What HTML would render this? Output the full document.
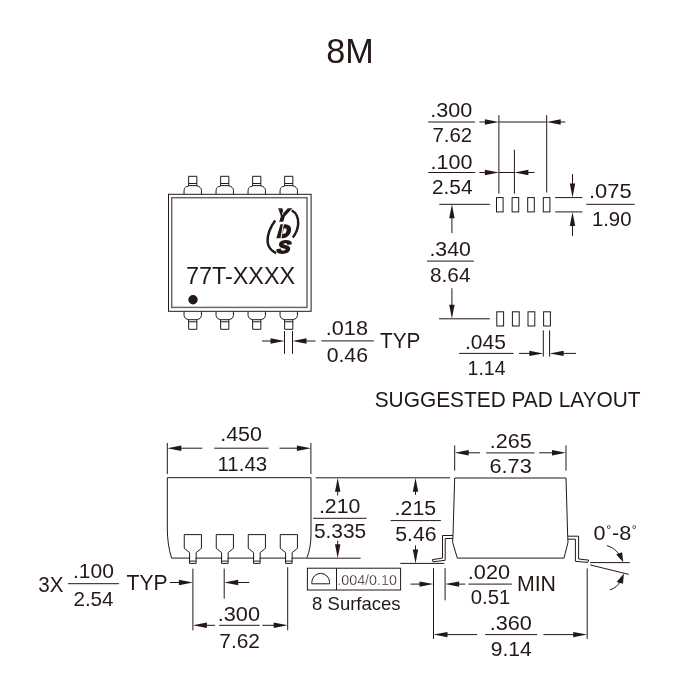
<!DOCTYPE html>
<html lang="en">
<head>
<meta charset="utf-8">
<title>8M package outline</title>
<style>
html,body{margin:0;padding:0;background:#fff;}
body{width:700px;height:700px;overflow:hidden;}
svg{display:block;will-change:transform;font-family:"Liberation Sans",Arial,sans-serif;fill:#231815;}
svg line,svg .s{stroke:#231815;stroke-width:1.0;fill:none;}
svg .f{fill:#231815;stroke:none;}
svg text{stroke:none;fill:#231815;}
</style>
</head>
<body>
<svg width="700" height="700" viewBox="0 0 700 700">
<text transform="translate(326.2,63.3) scale(0.964,1)" x="0" y="0" font-size="35.5">8M</text>
<rect x="168.5" y="194.3" width="142.6" height="117" class="s"/>
<rect x="171.7" y="197.7" width="135.3" height="109.7" class="s" style="stroke-width:1.5;stroke:#6e6663"/>
<path class="s" d="M184.05,194.3 V190.4 A4.6,4.3 0 0 1 188.65,186.1 V176.3 H196.85 V186.1 A4.6,4.3 0 0 1 201.45,190.4 V194.3 M188.65,183.5 H196.85 M188.65,185.6 H196.85"/>
<path class="s" d="M184.05,311.3 V315.2 A4.6,4.3 0 0 0 188.65,319.5 V329.3 H196.85 V319.5 A4.6,4.3 0 0 0 201.45,315.2 V311.3 M188.65,319.7 H196.85 M188.65,321.8 H196.85"/>
<path class="s" d="M216.05,194.3 V190.4 A4.6,4.3 0 0 1 220.65,186.1 V176.3 H228.85 V186.1 A4.6,4.3 0 0 1 233.45,190.4 V194.3 M220.65,183.5 H228.85 M220.65,185.6 H228.85"/>
<path class="s" d="M216.05,311.3 V315.2 A4.6,4.3 0 0 0 220.65,319.5 V329.3 H228.85 V319.5 A4.6,4.3 0 0 0 233.45,315.2 V311.3 M220.65,319.7 H228.85 M220.65,321.8 H228.85"/>
<path class="s" d="M248.05,194.3 V190.4 A4.6,4.3 0 0 1 252.65,186.1 V176.3 H260.85 V186.1 A4.6,4.3 0 0 1 265.45,190.4 V194.3 M252.65,183.5 H260.85 M252.65,185.6 H260.85"/>
<path class="s" d="M248.05,311.3 V315.2 A4.6,4.3 0 0 0 252.65,319.5 V329.3 H260.85 V319.5 A4.6,4.3 0 0 0 265.45,315.2 V311.3 M252.65,319.7 H260.85 M252.65,321.8 H260.85"/>
<path class="s" d="M280.05,194.3 V190.4 A4.6,4.3 0 0 1 284.65,186.1 V176.3 H292.85 V186.1 A4.6,4.3 0 0 1 297.45,190.4 V194.3 M284.65,183.5 H292.85 M284.65,185.6 H292.85"/>
<path class="s" d="M280.05,311.3 V315.2 A4.6,4.3 0 0 0 284.65,319.5 V329.3 H292.85 V319.5 A4.6,4.3 0 0 0 297.45,315.2 V311.3 M284.65,319.7 H292.85 M284.65,321.8 H292.85"/>
<circle cx="193" cy="299.7" r="4.7" class="f"/>
<text transform="translate(185.9,284.4) scale(1.017,1)" x="0" y="0" font-size="23">77T-XXXX</text>
<g>
<path class="s" style="stroke-width:2.5" d="M275.2,220.4 C270,227 267,236 267.6,242 C268.2,247.5 271.5,251 276.2,253.2"/>
<path class="s" style="stroke-width:2.5" d="M291.8,210.5 C296.5,213 298.5,218.5 298.2,224 C297.8,229.5 295.5,234 292.8,237.6"/>
<text x="0" y="0" transform="translate(276.6,220.9) skewX(-6)" font-size="17.6" font-family="'Liberation Sans',sans-serif" font-weight="bold" font-style="italic" style="stroke:#231815;stroke-width:1.5;stroke-linejoin:miter">Y</text>
<text x="0" y="0" transform="translate(277.4,237.0) skewX(-6)" font-size="17" font-family="'Liberation Sans',sans-serif" font-weight="bold" font-style="italic" style="stroke:#231815;stroke-width:2.3;stroke-linejoin:miter">D</text>
<text x="0" y="0" transform="translate(276.4,253.1) skewX(-8) scale(1.14,1)" font-size="17.6" font-family="'Liberation Sans',sans-serif" font-weight="bold" font-style="italic" style="stroke:#231815;stroke-width:1.5;stroke-linejoin:miter">S</text>
<path style="stroke:#fff;stroke-width:1.0;fill:none" d="M284.3,206.5 L282.6,214.6"/>
<path style="stroke:#fff;stroke-width:1.0;fill:none" d="M283.6,223.0 L280.9,238.8"/>
</g>
<line x1="284.5" y1="331" x2="284.5" y2="353.8"/>
<line x1="292.5" y1="331" x2="292.5" y2="353.8"/>
<polygon class="f" points="284.50,341.00 270.50,338.30 270.50,343.70"/>
<line x1="262" y1="341" x2="271.5" y2="341"/>
<polygon class="f" points="292.50,341.00 306.50,338.30 306.50,343.70"/>
<line x1="305.5" y1="341" x2="315.5" y2="341"/>
<line x1="321.3" y1="340.9" x2="373.9" y2="340.9"/>
<text transform="translate(325.8,334.7) scale(1.032,1)" x="0" y="0" font-size="21.0">.018</text>
<text transform="translate(326.7,362.2) scale(1.009,1)" x="0" y="0" font-size="21.0">0.46</text>
<text transform="translate(380.0,347.5) scale(0.958,1)" x="0" y="0" font-size="21.7">TYP</text>
<line x1="428.2" y1="122" x2="475" y2="122"/>
<text transform="translate(430.2,116.5) scale(1.032,1)" x="0" y="0" font-size="21.0">.300</text>
<text transform="translate(432.4,142.2) scale(0.973,1)" x="0" y="0" font-size="21.0">7.62</text>
<polygon class="f" points="498.90,122.00 484.90,119.30 484.90,124.70"/>
<line x1="479.4" y1="122" x2="485.9" y2="122"/>
<line x1="498.9" y1="122" x2="546.7" y2="122"/>
<polygon class="f" points="546.70,122.00 560.70,119.30 560.70,124.70"/>
<line x1="559.7" y1="122" x2="565.3" y2="122"/>
<line x1="498.9" y1="115.1" x2="498.9" y2="193.7"/>
<line x1="546.7" y1="115.1" x2="546.7" y2="192.5"/>
<line x1="428.2" y1="172.5" x2="475.2" y2="172.5"/>
<text transform="translate(430.6,168.5) scale(1.024,1)" x="0" y="0" font-size="21.0">.100</text>
<text transform="translate(431.9,194.4) scale(0.994,1)" x="0" y="0" font-size="21.0">2.54</text>
<polygon class="f" points="498.90,172.50 484.90,169.80 484.90,175.20"/>
<line x1="479.4" y1="172.5" x2="485.9" y2="172.5"/>
<line x1="498.9" y1="172.5" x2="514.4" y2="172.5"/>
<polygon class="f" points="514.40,172.50 528.40,169.80 528.40,175.20"/>
<line x1="527.4" y1="172.5" x2="534.5" y2="172.5"/>
<line x1="514.4" y1="149.7" x2="514.4" y2="193.7"/>
<rect class="s" x="496.50" y="197.6" width="6.6" height="14.3"/>
<rect class="s" x="496.80" y="311.8" width="6.8" height="14.2"/>
<rect class="s" x="512.10" y="197.6" width="6.6" height="14.3"/>
<rect class="s" x="512.40" y="311.8" width="6.8" height="14.2"/>
<rect class="s" x="527.70" y="197.6" width="6.6" height="14.3"/>
<rect class="s" x="528.00" y="311.8" width="6.8" height="14.2"/>
<rect class="s" x="543.30" y="197.6" width="6.6" height="14.3"/>
<rect class="s" x="543.60" y="311.8" width="6.8" height="14.2"/>
<line x1="439.2" y1="204.3" x2="489.9" y2="204.3"/>
<polygon class="f" points="451.90,204.30 449.20,218.30 454.60,218.30"/>
<line x1="451.9" y1="217.3" x2="451.9" y2="233.2"/>
<line x1="555.2" y1="197.6" x2="582.4" y2="197.6"/>
<line x1="555.2" y1="211.9" x2="582.4" y2="211.9"/>
<polygon class="f" points="572.50,197.60 569.80,183.60 575.20,183.60"/>
<line x1="572.5" y1="174.1" x2="572.5" y2="184.6"/>
<polygon class="f" points="572.50,211.90 569.80,225.90 575.20,225.90"/>
<line x1="572.5" y1="224.9" x2="572.5" y2="235.9"/>
<line x1="586.4" y1="204.3" x2="634.8" y2="204.3"/>
<text transform="translate(589.0,198.2) scale(1.042,1)" x="0" y="0" font-size="21.0">.075</text>
<text transform="translate(591.9,226.1) scale(0.969,1)" x="0" y="0" font-size="21.0">1.90</text>
<line x1="427" y1="261.1" x2="473.9" y2="261.1"/>
<text transform="translate(429.4,255.7) scale(1.013,1)" x="0" y="0" font-size="21.0">.340</text>
<text transform="translate(430.0,281.9) scale(0.991,1)" x="0" y="0" font-size="21.0">8.64</text>
<polygon class="f" points="451.90,318.80 449.20,304.80 454.60,304.80"/>
<line x1="451.9" y1="288.2" x2="451.9" y2="305.8"/>
<line x1="439" y1="318.8" x2="489.9" y2="318.8"/>
<line x1="459" y1="353.4" x2="513.6" y2="353.4"/>
<text transform="translate(465.0,349.1) scale(1.000,1)" x="0" y="0" font-size="21.0">.045</text>
<text transform="translate(467.6,375.3) scale(0.929,1)" x="0" y="0" font-size="21.0">1.14</text>
<line x1="543.3" y1="330.4" x2="543.3" y2="356.6"/>
<line x1="549.6" y1="330.4" x2="549.6" y2="356.6"/>
<polygon class="f" points="543.30,353.40 529.30,350.70 529.30,356.10"/>
<line x1="519" y1="353.4" x2="530.3" y2="353.4"/>
<polygon class="f" points="549.60,353.40 563.60,350.70 563.60,356.10"/>
<line x1="562.6" y1="353.4" x2="576" y2="353.4"/>
<text transform="translate(374.7,407.4) scale(0.962,1)" x="0" y="0" font-size="21.7">SUGGESTED PAD LAYOUT</text>
<line x1="167.3" y1="442.9" x2="167.3" y2="474"/>
<line x1="310.9" y1="442.9" x2="310.9" y2="474"/>
<polygon class="f" points="167.30,448.20 181.30,445.50 181.30,450.90"/>
<line x1="180.3" y1="448.2" x2="202.3" y2="448.2"/>
<polygon class="f" points="310.90,448.20 296.90,445.50 296.90,450.90"/>
<line x1="279.5" y1="448.2" x2="297.9" y2="448.2"/>
<line x1="214.2" y1="448.2" x2="268.6" y2="448.2"/>
<text transform="translate(220.2,440.7) scale(1.021,1)" x="0" y="0" font-size="21.0">.450</text>
<text transform="translate(217.5,471.1) scale(0.975,1)" x="0" y="0" font-size="21.0">11.43</text>
<path class="s" d="M171.6,558.1 Q167.3,545 167.3,528 V477.7 H311 V534 Q311,548 306.8,558.1 Z"/>
<path style="stroke:#fff;stroke-width:2.6;fill:none" d="M190.15,558.1 H195.55"/>
<path class="s" d="M189.55,558.1 V563.4 H196.15 V558.1 M189.55,561.1 H196.15 M189.55,558.1 V552.6 L184.25,548.3 V534.6 H201.45 V548.3 L196.15,552.6 V558.1"/>
<path style="stroke:#fff;stroke-width:2.6;fill:none" d="M222.15,558.1 H227.55"/>
<path class="s" d="M221.55,558.1 V563.4 H228.15 V558.1 M221.55,561.1 H228.15 M221.55,558.1 V552.6 L216.25,548.3 V534.6 H233.45 V548.3 L228.15,552.6 V558.1"/>
<path style="stroke:#fff;stroke-width:2.6;fill:none" d="M254.15,558.1 H259.55"/>
<path class="s" d="M253.55,558.1 V563.4 H260.15 V558.1 M253.55,561.1 H260.15 M253.55,558.1 V552.6 L248.25,548.3 V534.6 H265.45 V548.3 L260.15,552.6 V558.1"/>
<path style="stroke:#fff;stroke-width:2.6;fill:none" d="M286.15,558.1 H291.55"/>
<path class="s" d="M285.55,558.1 V563.4 H292.15 V558.1 M285.55,561.1 H292.15 M285.55,558.1 V552.6 L280.25,548.3 V534.6 H297.45 V548.3 L292.15,552.6 V558.1"/>
<line x1="315.7" y1="477.8" x2="450" y2="477.8"/>
<line x1="307" y1="558.2" x2="360.6" y2="558.2"/>
<polygon class="f" points="337.70,477.80 335.00,491.80 340.40,491.80"/>
<line x1="337.7" y1="490.8" x2="337.7" y2="495.5"/>
<polygon class="f" points="337.70,558.20 335.00,544.20 340.40,544.20"/>
<line x1="337.7" y1="540.6" x2="337.7" y2="545.2"/>
<line x1="313.1" y1="518.3" x2="366.6" y2="518.3"/>
<text transform="translate(318.9,512.8) scale(1.013,1)" x="0" y="0" font-size="21.0">.210</text>
<text transform="translate(313.9,537.8) scale(0.995,1)" x="0" y="0" font-size="21.0">5.335</text>
<line x1="68" y1="583.7" x2="119" y2="583.7"/>
<text transform="translate(38.3,592.0) scale(0.950,1)" x="0" y="0" font-size="21.7">3X</text>
<text transform="translate(73.0,577.6) scale(1.000,1)" x="0" y="0" font-size="21.0">.100</text>
<text transform="translate(73.4,606.4) scale(0.983,1)" x="0" y="0" font-size="21.0">2.54</text>
<text transform="translate(126.5,589.9) scale(0.975,1)" x="0" y="0" font-size="21.7">TYP</text>
<polygon class="f" points="192.90,582.50 178.90,579.80 178.90,585.20"/>
<line x1="169.8" y1="582.5" x2="179.9" y2="582.5"/>
<line x1="192.9" y1="568.6" x2="192.9" y2="630.3"/>
<line x1="224.2" y1="568.6" x2="224.2" y2="598.6"/>
<line x1="287.7" y1="567.2" x2="287.7" y2="630.3"/>
<polygon class="f" points="224.20,582.50 238.20,579.80 238.20,585.20"/>
<line x1="237.2" y1="582.5" x2="249.4" y2="582.5"/>
<polygon class="f" points="192.90,625.30 206.90,622.60 206.90,628.00"/>
<line x1="205.9" y1="625.3" x2="215.1" y2="625.3"/>
<polygon class="f" points="287.70,625.30 273.70,622.60 273.70,628.00"/>
<line x1="262.3" y1="625.3" x2="274.7" y2="625.3"/>
<line x1="219.1" y1="625.3" x2="259.7" y2="625.3"/>
<text transform="translate(217.7,620.9) scale(1.037,1)" x="0" y="0" font-size="21.0">.300</text>
<text transform="translate(219.3,648.3) scale(0.996,1)" x="0" y="0" font-size="21.0">7.62</text>
<rect class="s" x="307.4" y="568.2" width="93.2" height="21.8"/>
<line x1="336.5" y1="568.2" x2="336.5" y2="590"/>
<path class="s" d="M311.8,583.8 H329.6 V582.4 A8.9,9 0 0 0 311.8,582.4 Z"/>
<text transform="translate(337.3,585.4) scale(0.978,1)" x="0" y="0" font-size="14.6" style="stroke:#fff;stroke-width:0.3">.004/0.10</text>
<text transform="translate(312.1,610.3) scale(1.029,1)" x="0" y="0" font-size="18">8 Surfaces</text>
<polygon class="f" points="415.50,477.80 412.80,491.80 418.20,491.80"/>
<line x1="415.5" y1="490.8" x2="415.5" y2="494.9"/>
<polygon class="f" points="415.50,563.40 412.80,549.40 418.20,549.40"/>
<line x1="415.5" y1="545.4" x2="415.5" y2="550.4"/>
<line x1="390.6" y1="520.6" x2="440.9" y2="520.6"/>
<text transform="translate(394.6,514.9) scale(1.016,1)" x="0" y="0" font-size="21.0">.215</text>
<text transform="translate(395.3,541.1) scale(1.010,1)" x="0" y="0" font-size="21.0">5.46</text>
<line x1="400.2" y1="563.4" x2="444.3" y2="563.4"/>
<line x1="454.7" y1="445.4" x2="454.7" y2="470.6"/>
<line x1="566" y1="445.4" x2="566" y2="470.6"/>
<polygon class="f" points="454.70,452.80 468.70,450.10 468.70,455.50"/>
<line x1="467.7" y1="452.8" x2="480.1" y2="452.8"/>
<polygon class="f" points="566.00,452.80 552.00,450.10 552.00,455.50"/>
<line x1="539.1" y1="452.8" x2="553.0" y2="452.8"/>
<line x1="486.2" y1="452.9" x2="534.5" y2="452.9"/>
<text transform="translate(489.7,447.6) scale(1.026,1)" x="0" y="0" font-size="21.0">.265</text>
<text transform="translate(489.5,472.7) scale(1.033,1)" x="0" y="0" font-size="21.0">6.73</text>
<path class="s" d="M454.7,478 H566 L567.7,536.3 L568,542.3 L564,558.1 H457.3 L452.6,542.3 L453,535.4 Z"/>
<path class="s" d="M453,535.5 H442.5 V558.1 L432.4,559.6 L432.9,561.8 L445.2,560.3 V538.5 H453"/>
<path class="s" d="M567.7,536.2 H578.6 V559 L588.7,560.1 L587.8,562.4 L575.4,561.3 V539.2 H567.8"/>
<line x1="433.5" y1="568.2" x2="433.5" y2="638.9"/>
<line x1="445.1" y1="568.2" x2="445.1" y2="600.3"/>
<polygon class="f" points="433.50,584.10 419.50,581.40 419.50,586.80"/>
<line x1="410.5" y1="584.1" x2="420.5" y2="584.1"/>
<polygon class="f" points="445.10,584.10 459.10,581.40 459.10,586.80"/>
<line x1="458.1" y1="584.1" x2="465.2" y2="584.1"/>
<line x1="468.4" y1="584.1" x2="511.9" y2="584.1"/>
<text transform="translate(467.8,579.4) scale(1.034,1)" x="0" y="0" font-size="21.0">.020</text>
<text transform="translate(470.8,604.0) scale(0.967,1)" x="0" y="0" font-size="21.0">0.51</text>
<text transform="translate(516.9,591.4) scale(0.985,1)" x="0" y="0" font-size="21.7">MIN</text>
<line x1="587.2" y1="568.4" x2="587.2" y2="638.9"/>
<polygon class="f" points="433.50,634.60 447.50,631.90 447.50,637.30"/>
<line x1="446.5" y1="634.6" x2="477.2" y2="634.6"/>
<polygon class="f" points="587.20,634.60 573.20,631.90 573.20,637.30"/>
<line x1="543.5" y1="634.6" x2="574.2" y2="634.6"/>
<line x1="485.2" y1="634.6" x2="537.2" y2="634.6"/>
<text transform="translate(489.7,630.4) scale(1.034,1)" x="0" y="0" font-size="21.0">.360</text>
<text transform="translate(490.8,655.9) scale(1.001,1)" x="0" y="0" font-size="21.0">9.14</text>
<line x1="590.2" y1="562.6" x2="629.8" y2="562.6"/>
<line x1="590.2" y1="564.9" x2="628.8" y2="574.4"/>
<text transform="translate(593.5,540.3) scale(1.08,1)" x="0" y="0" font-size="20">0<tspan font-size="11.5" dy="-7.3" dx="0.6">°</tspan><tspan dy="7.3" dx="0.8">-8</tspan><tspan font-size="11.5" dy="-7.3" dx="0.6">°</tspan></text>
<path class="s" d="M606.9,545.5 Q616,548.5 619.6,555.5"/>
<polygon class="f" points="623.3,562.3 616.2,554.6 622.1,552.3"/>
<path class="s" d="M609.9,589.8 Q617,588 620.4,581"/>
<polygon class="f" points="623.9,573.5 616.6,581.9 623,583.8"/>
</svg>
</body>
</html>
